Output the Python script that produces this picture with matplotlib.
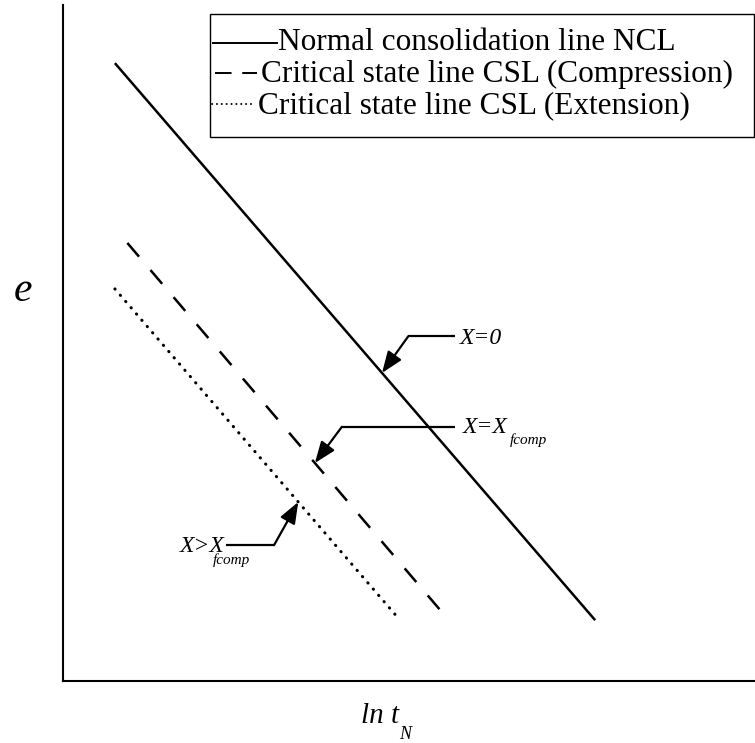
import matplotlib.pyplot as plt
from matplotlib.lines import Line2D
from matplotlib.patches import Rectangle
import numpy as np

W, H, DPI = 755, 743, 100

# line end points as (ln t_N, e) pairs, arbitrary units 0..10
ncl_x = [0.75, 7.69]
ncl_e = [9.14, 0.90]
csl_comp_x = [0.93, 5.45]
csl_comp_e = [6.48, 1.05]
csl_ext_x = [0.75, 4.87]
csl_ext_e = [5.80, 0.90]

legend_labels = [
    "Normal consolidation line NCL",
    "Critical state line CSL (Compression)",
    "Critical state line CSL (Extension)",
]

SERIF = ["Liberation Serif", "DejaVu Serif"]
LW = 1.8
DASHED = (0, (7.2, 7.05))
DOTTED = (0, (0.1, 2.6))

fig = plt.figure(figsize=(W / DPI, H / DPI), dpi=DPI)
fig.patch.set_facecolor("white")


def fx(px):
    return px / W


def fy(py):
    return 1 - py / H


ax = fig.add_axes([fx(63), fy(681), 1 - fx(63), fy(5) - fy(681)])
ax.set_xlim(0, 10)
ax.set_ylim(0, 10)
ax.set_xticks([])
ax.set_yticks([])
for side in ("top", "right"):
    ax.spines[side].set_visible(False)
for side in ("left", "bottom"):
    ax.spines[side].set_linewidth(1.5)

ax.plot(ncl_x, ncl_e, color="black", lw=LW, solid_capstyle="butt")
ax.plot(csl_comp_x, csl_comp_e, color="black", lw=LW, linestyle=DASHED,
        dash_capstyle="butt")
ax.plot(csl_ext_x, csl_ext_e, color="black", lw=2.2, linestyle=DOTTED,
        dash_capstyle="round")


def on_line(xs, ys, x):
    return float(np.interp(x, xs[::-1], ys[::-1]) if xs[0] > xs[-1]
                 else np.interp(x, xs, ys))


def leader(tip, elbow, end):
    ax.plot([end[0], elbow[0]], [elbow[1], elbow[1]], color="black", lw=1.6,
            solid_capstyle="butt")
    ax.annotate("", xy=tip, xytext=elbow,
                arrowprops=dict(arrowstyle="-|>,head_length=1.3,head_width=0.5",
                                color="black", lw=1.6, shrinkA=0, shrinkB=0))


itxt = dict(family=SERIF, style="italic", color="black")

# X = 0 on the NCL
tip = (4.61, on_line(ncl_x, ncl_e, 4.61))
leader(tip, (4.99, 5.10), (5.66, 5.10))
ax.text(5.74, 4.99, "X=0", fontsize=17, va="baseline", ha="left", **itxt)

# X = X_fcomp on the compression CSL
tip = (3.64, on_line(csl_comp_x, csl_comp_e, 3.64))
leader(tip, (4.03, 3.76), (5.66, 3.76))
ax.text(5.77, 3.67, "X=X", fontsize=17, va="baseline", ha="left", **itxt)
ax.text(6.45, 3.50, "fcomp", fontsize=11, va="baseline", ha="left", **itxt)

# X > X_fcomp on the extension CSL
tip = (3.40, on_line(csl_ext_x, csl_ext_e, 3.40))
leader(tip, (3.05, 2.01), (2.36, 2.01))
ax.text(2.34, 1.91, "X>X", fontsize=17, va="baseline", ha="right", **itxt)
ax.text(2.17, 1.73, "fcomp", fontsize=11, va="baseline", ha="left", **itxt)

# axis labels
fig.text(fx(23), fy(291), "e", fontsize=30, ha="center", va="center", **itxt)
fig.text(fx(361), fy(723), "ln t", fontsize=21, ha="left", va="baseline", **itxt)
fig.text(fx(399), fy(739), "N", fontsize=13, ha="left", va="baseline", **itxt)

# legend panel
fig.add_artist(Rectangle((fx(210), fy(137)), fx(754) - fx(210), fy(14) - fy(137),
                         transform=fig.transFigure, facecolor="white",
                         edgecolor="black", lw=1.0))
handles = [
    Line2D([fx(213), fx(277)], [fy(43), fy(43)], color="black", lw=1.4),
    Line2D([fx(215), fx(257)], [fy(73), fy(73)], color="black", lw=1.4,
           linestyle=(0, (8.5, 5.5)), dash_capstyle="butt"),
    Line2D([fx(212), fx(255)], [fy(104), fy(104)], color="black", lw=1.4,
           linestyle=(0, (0.1, 2.4)), dash_capstyle="round"),
]
for h in handles:
    h.set_transform(fig.transFigure)
    fig.add_artist(h)
for label, x0, base in zip(legend_labels, [278, 261, 258], [50, 82, 113]):
    fig.text(fx(x0), fy(base), label, fontsize=22.5, family=SERIF,
             ha="left", va="baseline", color="black")

fig.savefig("out.png", dpi=DPI)
